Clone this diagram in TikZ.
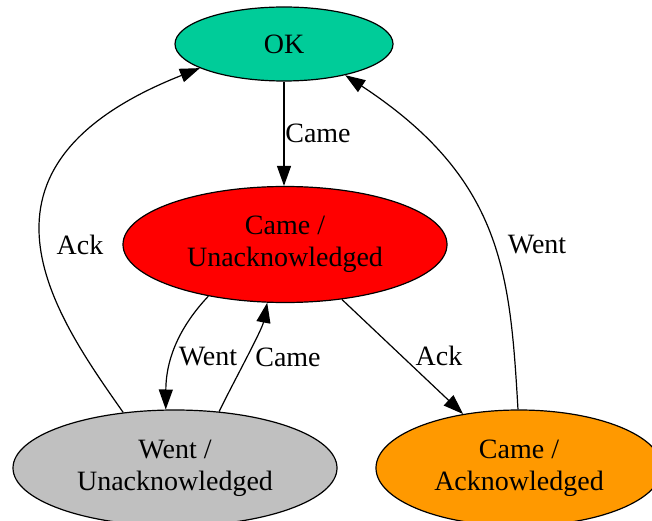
\documentclass[tikz,border=0pt]{standalone}
\usepackage{fontspec}
\setmainfont{Liberation Serif}
\usetikzlibrary{shapes.geometric,arrows.meta}
\definecolor{okgreen}{HTML}{00CC99}
\definecolor{cured}{HTML}{FF0000}
\definecolor{wugray}{HTML}{C0C0C0}
\definecolor{caorange}{HTML}{FF9900}
\tikzset{
  state/.style={ellipse, draw=black, line width=1.2pt, inner sep=0pt, align=center,
    font=\fontsize{28}{32}\selectfont},
  edge/.style={line width=1.2pt, -{Triangle[length=20pt,width=14pt]}},
  elabel/.style={font=\fontsize{28}{32}\selectfont, inner sep=0pt}
}
\begin{document}
\begin{tikzpicture}[x=1pt,y=-1pt]
\useasboundingbox (0,0) rectangle (652,521);
\node[state, fill=okgreen, minimum width=218pt, minimum height=74pt] (ok) at (284,44) {OK};
\node[state, fill=cured, minimum width=324pt, minimum height=116pt] (cu) at (285,244.5) {Came /\\Unacknowledged};
\node[state, fill=wugray, minimum width=324pt, minimum height=116pt] (wu) at (175,468) {Went /\\Unacknowledged};
\node[state, fill=caorange, minimum width=286pt, minimum height=116pt] (ca) at (519,468) {Came /\\Acknowledged};

\draw[edge] (ok.south) -- (ok.south |- cu.north);
\draw[edge] (cu.214.3) .. controls (183,323) and (166,355) .. (wu.99);
\draw[edge] (wu.52) .. controls (232,385) and (262,330) .. (cu.253.8);
\draw[edge] (cu.316.8) -- (ca.136);
\draw[edge] (wu.133.4) .. controls (54,314) and (-50,167) .. (ok.196.9);
\draw[edge] (ca.91) .. controls (510,273) and (503,179) .. (ok.333.4);

\node[elabel] (l1) at (318,133) {Came};
\node[elabel] (l2) at (208,357) {Went};
\node[elabel] (l3) at (288,357) {Came};
\node[elabel] (l4) at (439,356) {Ack};
\node[elabel] (l5) at (80,245) {Ack};
\node[elabel] (l6) at (537,245) {Went};
\end{tikzpicture}
\end{document}
